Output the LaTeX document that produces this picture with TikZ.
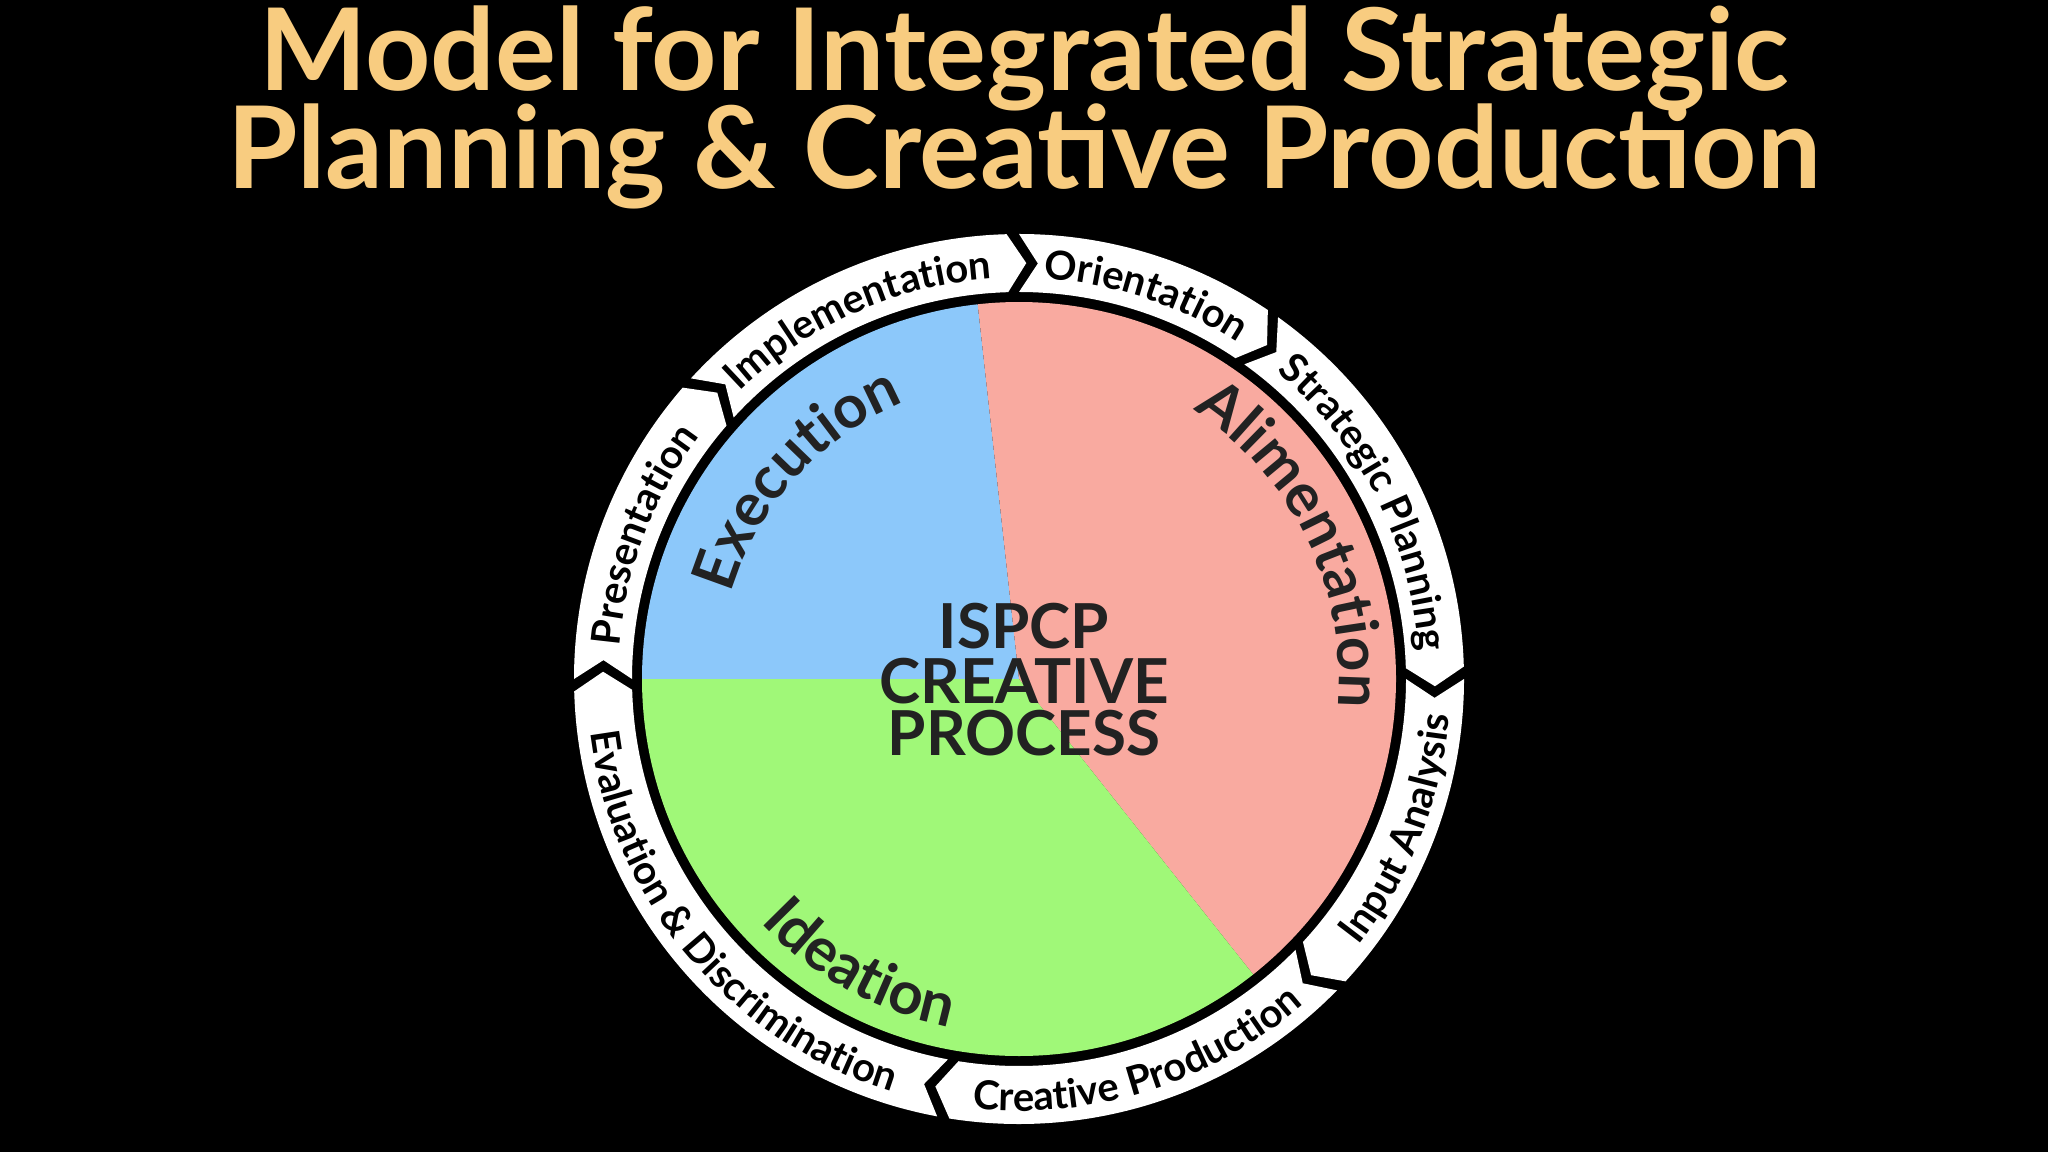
\documentclass[tikz,border=0pt]{standalone}
\usepackage{fontspec}
\setmainfont{Lato}
\usetikzlibrary{decorations.text}
\definecolor{titlec}{HTML}{F8CC80}
\definecolor{pblue}{HTML}{8CC8FA}
\definecolor{pred}{HTML}{F9AAA0}
\definecolor{pgreen}{HTML}{A0F878}
\definecolor{ink}{HTML}{222222}
\newcommand\ringfont{\fontsize{20}{20}\bfseries}
\newcommand\piefont{\fontsize{30}{30}\bfseries}
\tikzset{
  seg/.style={fill=white},
  ringtxt/.style={decorate,decoration={text along path,text align=center,text color=black,text={|\ringfont|#1}}},
  pietxt/.style={decorate,decoration={text along path,text align=center,text color=ink,text={|\piefont|#1}}},
  titletxt/.style={text=titlec,font=\fontsize{57}{57}\selectfont\bfseries,anchor=base,inner sep=0pt},
  centertxt/.style={text=ink,font=\fontsize{31}{31}\selectfont\bfseries,anchor=base,inner sep=0pt},
}
\begin{document}
\begin{tikzpicture}[x=0.5pt,y=0.5pt]
\useasboundingbox[fill=black] (0,0) rectangle (2048,1152);
\node[titletxt] (title1) at (1024,1061) {Model for Integrated Strategic};
\node[titletxt] (title2) at (1024,963) {Planning \& Creative Production};
\begin{scope}[shift={(1019,473)}]
 \def\Ro{445}\def\Ri{387}\def\Rm{416}\def\g{1.6}\def\d{2.6}\def\Rp{377}
 % pie
 \fill[pblue] (0,0) -- (96.3:\Rp) arc[start angle=96.3,end angle=180,radius=\Rp] -- cycle;
 \fill[pred] (0,0) -- (-51.6:\Rp) arc[start angle=-51.6,end angle=96.3,radius=\Rp] -- cycle;
 \fill[pgreen] (0,0) -- (180:\Rp) arc[start angle=180,end angle=308.4,radius=\Rp] -- cycle;
 % ring segments (clockwise, s > e)
 \foreach \s/\e in {137.5/90, 90/54.4, 54.4/0, 0/-44.4, -44.4/-100.6, -100.6/-180, 180/137.5}{
  \pgfmathsetmacro\ee{\e+\g}
  \pgfmathsetmacro\tip{\e+\g-\d}
  \pgfmathsetmacro\notch{\s-\d}
  \fill[seg] (\s:\Ro) arc[start angle=\s,end angle=\ee,radius=\Ro] -- (\tip:\Rm) -- (\ee:\Ri)
    arc[start angle=\ee,end angle=\s,radius=\Ri] -- (\notch:\Rm) -- cycle;
 }
 % ring labels
 \path[ringtxt={Presentation}] (179:401) arc[start angle=179,end angle=139,radius=401];
 \path[ringtxt={Implementation}] (136:401) arc[start angle=136,end angle=92,radius=401];
 \path[ringtxt={Orientation}] (88.5:401) arc[start angle=88.5,end angle=55,radius=401];
 \path[ringtxt={Strategic Planning}] (53:401) arc[start angle=53,end angle=1,radius=401];
 \path[ringtxt={Input Analysis}] (-42:432) arc[start angle=-42,end angle=-1,radius=432];
 \path[ringtxt={Creative Production}] (-99:432) arc[start angle=-99,end angle=-46,radius=432];
 \path[ringtxt={Evaluation {\&} Discrimination}] (-178:432) arc[start angle=-178,end angle=-102,radius=432];
 % pie labels
 \path[pietxt={Alimentation}] (60:320) arc[start angle=60,end angle=-8,radius=320];
 \path[pietxt={Execution}] (168:300) arc[start angle=168,end angle=108,radius=300];
 \path[pietxt={Ideation}] (210:355) arc[start angle=210,end angle=272,radius=355];
\end{scope}
\node[centertxt] (c1) at (1024,503) {ISPCP};
\node[centertxt] (c2) at (1024,449) {CREATIVE};
\node[centertxt] (c3) at (1024,397) {PROCESS};
\end{tikzpicture}
\end{document}
